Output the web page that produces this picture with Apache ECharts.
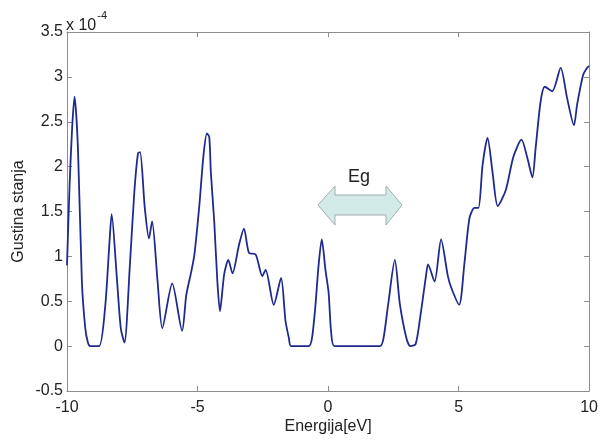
<!DOCTYPE html>
<html>
<head>
<meta charset="utf-8">
<script src="https://cdn.jsdelivr.net/npm/echarts@6/dist/echarts.min.js"></script>
<style>
  html, body { margin: 0; padding: 0; background: #fff; }
  #chart { width: 601px; height: 443px; }
</style>
</head>
<body>
<div id="chart"></div>
<script>
// energija u eV, gustina stanja u jedinicama 1e-4
const energy = [-10, -9.9, -9.8, -9.71, -9.58, -9.43, -9.3, -9.2, -9.11, -8.77, -8.54, -8.37, -8.29, -8.1, -7.94, -7.8,
  -7.59, -7.42, -7.28, -7.2, -7.02, -6.86, -6.74, -6.53, -6.35, -5.97, -5.59, -5.43, -5.24, -5.12, -4.93, -4.77,
  -4.64, -4.55, -4.49, -4.36, -4.24, -4.14, -3.98, -3.82, -3.66, -3.41, -3.22, -3.03, -2.77, -2.52, -2.39, -2.08,
  -1.8, -1.63, -1.5, -1.42, -0.74, -0.62, -0.49, -0.36, -0.24, -0.1, 0.02, 0.12, 0.25, 1.99, 2.12, 2.3, 2.56, 2.75,
  3.0, 3.15, 3.35, 3.51, 3.76, 3.83, 4.08, 4.33, 4.59, 4.72, 5.02, 5.23, 5.42, 5.61, 5.76, 5.92, 6.11, 6.3, 6.5,
  6.81, 7.1, 7.41, 7.64, 7.83, 7.95, 8.14, 8.3, 8.59, 8.91, 9.16, 9.42, 9.54, 9.77, 9.9, 10];
const dos = [0.9, 1.8, 2.45, 2.78, 2.2, 0.72, 0.2, 0.04, 0, 0, 0.43, 1.17, 1.47, 0.8, 0.2, 0.04,
  0.91, 1.72, 2.15, 2.16, 1.54, 1.2, 1.39, 0.72, 0.2, 0.7, 0.17, 0.57, 0.83, 1.02, 1.57, 2.13,
  2.37, 2.33, 1.94, 1.39, 0.72, 0.39, 0.8, 0.96, 0.81, 1.13, 1.31, 1.04, 1.02, 0.78, 0.85, 0.46,
  0.76, 0.28, 0.09, 0, 0, 0.08, 0.43, 0.91, 1.19, 0.85, 0.6, 0.15, 0, 0, 0.08, 0.46, 0.96, 0.47,
  0.09, 0, 0.02, 0.28, 0.8, 0.91, 0.72, 1.19, 0.78, 0.65, 0.46, 0.94, 1.43, 1.54, 1.54, 2.02, 2.32, 1.94, 1.56,
  1.74, 2.11, 2.3, 2.09, 1.88, 2.2, 2.72, 2.89, 2.84, 3.1, 2.76, 2.46, 2.69, 3.02, 3.09, 3.12];
const xTicks = [-10, -5, 0, 5, 10];
const yTicks = [-0.5, 0, 0.5, 1, 1.5, 2, 2.5, 3, 3.5];

const chart = echarts.init(document.getElementById('chart'));

const axisGrey = '#8c8c8c';
const font = 'Liberation Sans, Arial, sans-serif';

const xBase = {
  type: 'value', min: xTicks[0], max: xTicks[xTicks.length - 1], interval: 5,
  axisLine: { show: true, onZero: false, lineStyle: { color: axisGrey, width: 1 } },
  axisTick: { show: true, inside: true, length: 5, lineStyle: { color: axisGrey } },
  splitLine: { show: false }
};
const yBase = {
  type: 'value', min: yTicks[0], max: yTicks[yTicks.length - 1], interval: 0.5,
  axisLine: { show: true, onZero: false, lineStyle: { color: axisGrey, width: 1 } },
  axisTick: { show: true, inside: true, length: 5, lineStyle: { color: axisGrey } },
  splitLine: { show: false }
};

const option = {
  backgroundColor: '#fff',
  animation: false,
  grid: { left: 67, right: 9, top: 32, bottom: 52 },
  xAxis: [
    Object.assign({}, xBase, {
      position: 'bottom',
      name: 'Energija[eV]', nameLocation: 'middle', nameGap: 28, nameMoveOverlap: false,
      nameTextStyle: { color: '#222', fontSize: 16, fontFamily: font },
      axisLabel: { color: '#222', fontSize: 16, fontFamily: font, margin: 9 }
    }),
    Object.assign({}, xBase, { position: 'top', axisLabel: { show: false } })
  ],
  yAxis: [
    Object.assign({}, yBase, {
      position: 'left',
      name: 'Gustina stanja', nameLocation: 'middle', nameGap: 40, nameMoveOverlap: false,
      nameTextStyle: { color: '#222', fontSize: 16, fontFamily: font },
      axisLabel: { color: '#222', fontSize: 16, fontFamily: font, margin: 4 }
    }),
    Object.assign({}, yBase, { position: 'right', axisLabel: { show: false } })
  ],
  series: [{
    type: 'line',
    data: energy.map((e, i) => [e, dos[i]]),
    showSymbol: false,
    smooth: 0.25,
    lineStyle: { color: '#1e2a8e', width: 1.8 }
  }],
  graphic: [
    {
      type: 'text', left: 66, top: 10,
      style: {
        text: '{a|x 10}{b|-4}',
        rich: {
          a: { fontSize: 16, fontFamily: font, fill: '#222', verticalAlign: 'bottom', padding: [8, 0, 0, 0] },
          b: { fontSize: 11, fontFamily: font, fill: '#222', verticalAlign: 'top', padding: [0, 0, 0, 1] }
        }
      }
    },
    {
      type: 'polygon',
      shape: {
        points: [[318, 205], [335, 186], [335, 195], [386, 195], [386, 186], [402, 205],
                 [386, 225], [386, 215], [335, 215], [335, 225]]
      },
      style: { fill: '#d3ebe8', stroke: '#a3aeae', lineWidth: 1 }
    },
    {
      type: 'text', x: 359, y: 177,
      style: { text: 'Eg', fontSize: 18, fontFamily: font, fill: '#222', align: 'center', verticalAlign: 'middle' }
    }
  ]
};

chart.setOption(option);
</script>
</body>
</html>
